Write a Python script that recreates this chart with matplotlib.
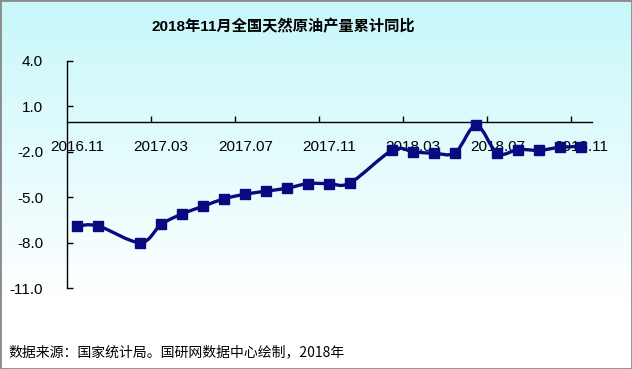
"""
2018年11月全国天然原油产量累计同比 — line chart with smoothed curve, square markers.
Writes out.png (632x369).
"""

import matplotlib
matplotlib.use("Agg")
import matplotlib.pyplot as plt
import numpy as np
from matplotlib.patches import PathPatch, Rectangle
from matplotlib.path import Path

plt.rcParams["font.family"] = ["Liberation Sans", "Noto Sans CJK SC", "DejaVu Sans"]
plt.rcParams["axes.unicode_minus"] = False

# category axis: every month from 2016.11 to 2018.11 (January has no data)
CATEGORIES = ["2016.11", "2016.12",
              "2017.01", "2017.02", "2017.03", "2017.04", "2017.05", "2017.06",
              "2017.07", "2017.08", "2017.09", "2017.10", "2017.11", "2017.12",
              "2018.01", "2018.02", "2018.03", "2018.04", "2018.05", "2018.06",
              "2018.07", "2018.08", "2018.09", "2018.10", "2018.11"]
DATA_MONTHS = ["2016.11", "2016.12",
               "2017.02", "2017.03", "2017.04", "2017.05", "2017.06", "2017.07",
               "2017.08", "2017.09", "2017.10", "2017.11", "2017.12",
               "2018.02", "2018.03", "2018.04", "2018.05", "2018.06", "2018.07",
               "2018.08", "2018.09", "2018.10", "2018.11"]
VALUES = [-6.9, -6.9,
          -8.0, -6.8, -6.1, -5.6, -5.1, -4.8,
          -4.6, -4.4, -4.1, -4.1, -4.05,
          -1.9, -2.0, -2.1, -2.05, -0.25, -2.1,
          -1.85, -1.9, -1.7, -1.65]
XLABELS = ["2016.11", "2017.03", "2017.07", "2017.11", "2018.03", "2018.07", "2018.11"]
YTICKS = [4.0, 1.0, -2.0, -5.0, -8.0, -11.0]

TITLE = "2018年11月全国天然原油产量累计同比"
SOURCE = "数据来源：国家统计局。国研网数据中心绘制，2018年"

LINE_COLOR = "#0a0a80"
TOP_BG = np.array([0.78, 0.97, 0.98])


def smooth_path(x, y):
    """Catmull-Rom style cubic Bezier through the points (Excel 'smoothed line')."""
    pts = np.column_stack([x, y]).astype(float)
    n = len(pts)
    verts = [pts[0]]
    codes = [Path.MOVETO]
    for i in range(n - 1):
        p0 = pts[i - 1] if i > 0 else pts[i]
        p1, p2 = pts[i], pts[i + 1]
        p3 = pts[i + 2] if i + 2 < n else pts[i + 1]
        verts += [p1 + (p2 - p0) / 6.0, p2 - (p3 - p1) / 6.0, p2]
        codes += [Path.CURVE4] * 3
    return Path(verts, codes)


def gradient(top, rows=369, white_at=300):
    # cyan at the top fading to white around pixel row `white_at`
    t = np.clip(np.arange(rows) / white_at, 0, 1)[:, None]
    return (top[None, :] * (1 - t) + t)[:, None, :]


fig = plt.figure(figsize=(6.32, 3.69), dpi=100)

# background gradient behind the whole chart
bg = fig.add_axes([0, 0, 1, 1], zorder=-2)
bg.imshow(gradient(TOP_BG), aspect="auto", extent=[0, 1, 0, 1])
bg.set_xlim(0, 1)
bg.set_ylim(0, 1)
bg.axis("off")

ax = fig.add_axes([0.1055, 0.2195, 0.831, 0.6152])
ax.set_facecolor("none")

xpos = [CATEGORIES.index(m) for m in DATA_MONTHS]
ax.add_patch(PathPatch(smooth_path(xpos, VALUES), fill=False,
                       edgecolor=LINE_COLOR, lw=2.4, zorder=3,
                       capstyle="round", joinstyle="round"))
ax.plot(xpos, VALUES, linestyle="none", marker="s", markersize=6.5,
        color=LINE_COLOR, zorder=4)

ax.set_xlim(-0.5, len(CATEGORIES) - 0.5)
ax.set_ylim(-11, 4)

# spines: y axis on the left, x axis through zero
for s in ("top", "right"):
    ax.spines[s].set_visible(False)
ax.spines["bottom"].set_position(("data", 0))
ax.spines["left"].set_linewidth(1.0)
ax.spines["bottom"].set_linewidth(1.0)

ax.set_yticks(YTICKS)
ax.set_yticklabels(["%.1f" % v for v in YTICKS], fontsize=11)
ax.tick_params(axis="y", direction="in", length=4, width=1, pad=17)

ax.set_xticks([CATEGORIES.index(lbl) for lbl in XLABELS])
ax.set_xticklabels(XLABELS, fontsize=11)
ax.set_xticks([CATEGORIES.index(lbl) - 0.5 for lbl in XLABELS[1:]], minor=True)
ax.tick_params(axis="x", which="major", length=0, pad=13)
ax.tick_params(axis="x", which="minor", direction="in", length=4, width=1)

fig.text(0.449, 0.928, TITLE, ha="center", va="center",
         fontsize=11, fontweight="bold")
fig.text(0.013, 0.046, SOURCE, ha="left", va="center", fontsize=10,
         family=["Noto Sans CJK SC", "DejaVu Sans"])

fig.patches.append(Rectangle((0, 0), 1, 1, transform=fig.transFigure,
                             fill=False, ec="#8a8a8a", lw=2.0))

fig.savefig("out.png", dpi=100)
